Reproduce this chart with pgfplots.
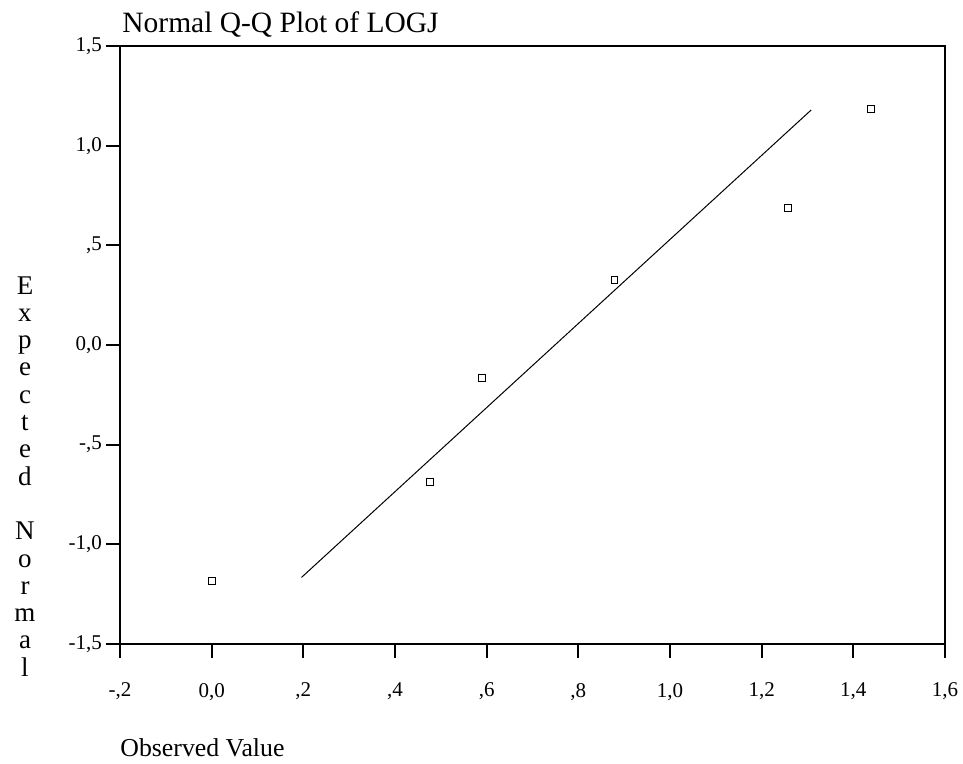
\documentclass[border=0pt]{standalone}
\usepackage{fontspec}
\setmainfont{Liberation Serif}
\usepackage{pgfplots}
\pgfplotsset{compat=1.18}
\begin{document}
\begin{tikzpicture}
\path[use as bounding box] (-60pt,-60pt) rectangle (421.5pt,322pt);
\begin{axis}[
  at={(0pt,0pt)}, anchor=south west,
  scale only axis, width=412.5pt, height=299pt,
  xmin=-0.2, xmax=1.6, ymin=-1.5, ymax=1.5,
  axis line style={line width=0.9pt},
  tick align=outside, tick pos=left, major tick length=7pt,
  tick style={line width=0.9pt, black},
  xtick={-0.2,0,0.2,0.4,0.6,0.8,1.0,1.2,1.4,1.6},
  xticklabels={{-,2},{0,0},{,2},{,4},{,6},{,8},{1,0},{1,2},{1,4},{1,6}},
  ytick={-1.5,-1,-0.5,0,0.5,1,1.5},
  yticklabels={{-1,5},{-1,0},{-,5},{0,0},{,5},{1,0},{1,5}},
  ticklabel style={font=\fontsize{10.5}{12}\selectfont},
  xticklabel style={anchor=north, yshift=-9pt},
  yticklabel style={anchor=east, xshift=1.5pt},
  clip=false,
]
% reference line of the normal distribution
\addplot[black, line width=0.5pt, no markers] coordinates {(0.196,-1.166) (1.308,1.179)};
% observed quantiles
\addplot[only marks, mark=square, mark size=1.7pt, mark options={black, line width=0.5pt}]
  coordinates {
    (0.000,-1.185)
    (0.476,-0.686)
    (0.589,-0.167)
    (0.879, 0.326)
    (1.257, 0.686)
    (1.439, 1.182)
  };
\end{axis}
\node[anchor=base west, inner sep=0pt, font=\fontsize{14.75}{17}\selectfont] at (1pt,305.5pt) {Normal Q-Q Plot of LOGJ};
\node[anchor=base west, inner sep=0pt, font=\fontsize{12.9}{15}\selectfont] at (0pt,-56.5pt) {Observed Value};
\node[anchor=north, inner sep=0pt, align=center, font=\fontsize{13.5}{13.65}\selectfont] at (-47.5pt,184pt)
  {E\\x\\p\\e\\c\\t\\e\\d\\[13.65pt]N\\o\\r\\m\\a\\l};
\end{tikzpicture}
\end{document}
